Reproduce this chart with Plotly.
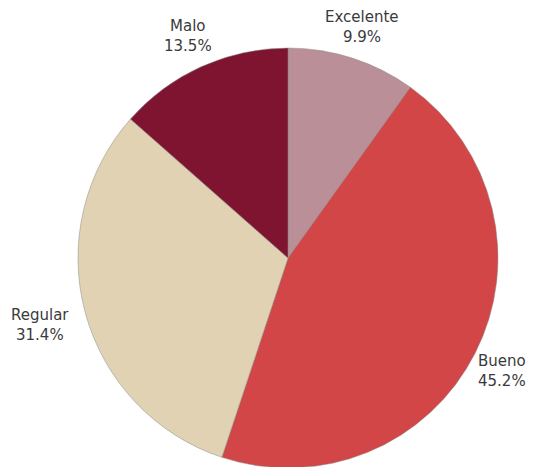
import math
import plotly.graph_objects as go

labels = ["Excelente", "Bueno", "Regular", "Malo"]
values = [9.9, 45.2, 31.4, 13.5]
colors = ["#BA8F98", "#D24647", "#E0D2B3", "#7E1430"]

# pie geometry (plot area is a 420px square)
size_px = 420
pie_r = 210
gap = 14
char_w = 9.2
half_h = 18
max_reach = 237  # px from centre the right-hand text may reach

fig = go.Figure(go.Pie(
    labels=labels,
    values=values,
    sort=False,
    direction="clockwise",
    rotation=0,
    marker=dict(colors=colors, line=dict(color="#8a8a8a", width=0.5)),
    textinfo="none",
    showlegend=False,
    hoverinfo="label+value",
))

font = dict(family="DejaVu Sans, sans-serif", size=15, color="#3a3a3a")

# labels placed outside, along each slice's middle angle
total = sum(values)
cum = 0
for lab, v in zip(labels, values):
    mid = (cum + v / 2) / total * 2 * math.pi
    cum += v
    pct = f"{v:.1f}%"
    half_w = max(len(lab), len(pct)) * char_w / 2
    s, c = abs(math.sin(mid)), abs(math.cos(mid))
    ext = min(half_w / s if s > 1e-6 else 1e9, half_h / c if c > 1e-6 else 1e9)
    r = pie_r + gap + ext
    dx = min(r * math.sin(mid), max_reach - half_w)
    x = 0.5 + dx / size_px
    y = 0.5 + r * math.cos(mid) / size_px
    fig.add_annotation(x=x, y=y, xref="paper", yref="paper", text=lab,
                       yshift=10, showarrow=False, xanchor="center",
                       yanchor="middle", font=font)
    fig.add_annotation(x=x, y=y, xref="paper", yref="paper", text=pct,
                       yshift=-10, showarrow=False, xanchor="center",
                       yanchor="middle", font=font)

fig.update_layout(
    width=535,
    height=467,
    margin=dict(l=70, r=45, t=40, b=7),
    paper_bgcolor="white",
    plot_bgcolor="white",
)

fig.write_html("out.html")
